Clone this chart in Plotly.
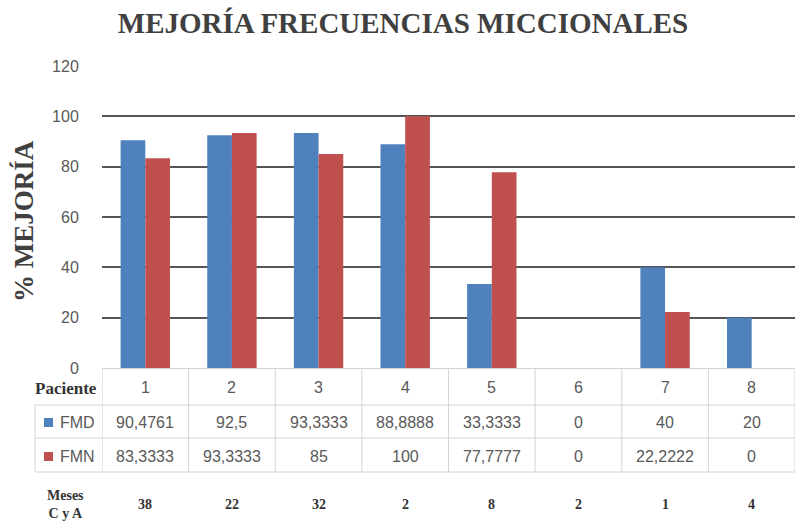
import plotly.graph_objects as go

# ---- data ----
pacientes = ["1", "2", "3", "4", "5", "6", "7", "8"]
fmd = [90.4761, 92.5, 93.3333, 88.8888, 33.3333, 0, 40, 20]
fmn = [83.3333, 93.3333, 85, 100, 77.7777, 0, 22.2222, 0]
meses_cya = [38, 22, 32, 2, 8, 2, 1, 4]
y_ticks = [0, 20, 40, 60, 80, 100, 120]

BLUE = "#4F81BD"
RED = "#C0504D"
W, H = 795, 521

def px(x):
    return x / W

def py(y):
    return 1 - y / H

def fmt(v):
    return f"{v:g}".replace(".", ",")

fig = go.Figure()
fig.add_bar(x=pacientes, y=fmd, name="FMD", marker_color=BLUE, marker_line_width=0)
fig.add_bar(x=pacientes, y=fmn, name="FMN", marker_color=RED, marker_line_width=0)

serif = "Liberation Serif"
sans = "Liberation Sans"
gray = "#595959"
dark = "#333333"

def ann(x, y, text, font, xref="paper", xanchor="center", textangle=0):
    return dict(x=x, y=y, xref=xref, yref="paper", text=text, showarrow=False, font=font,
                xanchor=xanchor, yanchor="middle", textangle=textangle)

f_val = dict(family=sans, size=16, color=gray)
f_bold = dict(family=serif, size=14, color=dark)

annotations = []
# y-axis title
annotations.append(ann(px(24), py(221), "<b>% MEJORÍA</b>",
                       dict(family=serif, size=27, color="#404040"), textangle=-90))
# row headers
annotations.append(ann(px(66), py(388), "<b>Paciente</b>", dict(family=serif, size=17, color=dark)))
annotations.append(ann(px(58), py(422), "FMD", f_val, xanchor="left"))
annotations.append(ann(px(58), py(456), "FMN", f_val, xanchor="left"))
annotations.append(ann(px(65), py(504), "<b>Meses<br>C y A</b>", f_bold))

for i, p in enumerate(pacientes):
    annotations.append(ann(i, py(387), p, f_val, xref="x"))
    annotations.append(ann(i, py(422), fmt(fmd[i]), f_val, xref="x"))
    annotations.append(ann(i, py(456), fmt(fmn[i]), f_val, xref="x"))
    annotations.append(ann(i, py(504), f"<b>{meses_cya[i]}</b>", f_bold, xref="x"))

LINE = "#d4d4d4"
shapes = []
for k in range(len(pacientes) + 1):
    shapes.append(dict(type="line", xref="x", yref="paper", x0=k - 0.5, x1=k - 0.5,
                       y0=py(368), y1=py(472), line=dict(color=LINE, width=1)))
for yy in (405, 438, 472):
    shapes.append(dict(type="line", xref="paper", yref="paper", x0=px(35), x1=1,
                       y0=py(yy), y1=py(yy), line=dict(color=LINE, width=1)))
shapes.append(dict(type="line", xref="paper", yref="paper", x0=px(35), x1=px(35),
                   y0=py(405), y1=py(472), line=dict(color=LINE, width=1)))
# legend keys
shapes.append(dict(type="rect", xref="paper", yref="paper", x0=px(44), x1=px(53),
                   y0=py(427), y1=py(418), fillcolor=BLUE, line_width=0))
shapes.append(dict(type="rect", xref="paper", yref="paper", x0=px(44), x1=px(53),
                   y0=py(461), y1=py(452), fillcolor=RED, line_width=0))

fig.update_layout(
    width=W, height=H, autosize=False,
    margin=dict(l=0, r=0, t=0, b=0, autoexpand=False),
    paper_bgcolor="white", plot_bgcolor="white",
    barmode="group", bargap=0.43, bargroupgap=0,
    showlegend=False,
    title=dict(text="<b>MEJORÍA FRECUENCIAS MICCIONALES</b>", x=px(403), y=py(23),
               xanchor="center", yanchor="middle",
               font=dict(family=serif, size=29, color="#404040")),
    xaxis=dict(type="category", domain=[px(102), 1], range=[-0.5, 7.5], showticklabels=False,
               showgrid=False, zeroline=False, showline=False, ticks="", automargin=False),
    yaxis=dict(domain=[py(368), py(66)], range=[0, 120], tickvals=y_ticks, automargin=False,
               showgrid=True, gridcolor="#555555", gridwidth=1.6,
               zeroline=True, zerolinecolor=LINE, zerolinewidth=1,
               showline=False, ticks="outside", ticklen=19, tickcolor="rgba(0,0,0,0)",
               tickfont=dict(family=sans, size=16, color=gray)),
    annotations=annotations,
    shapes=shapes,
)

fig.write_html("out.html", config={"displayModeBar": False},
               post_script="document.body.style.margin='0';")
